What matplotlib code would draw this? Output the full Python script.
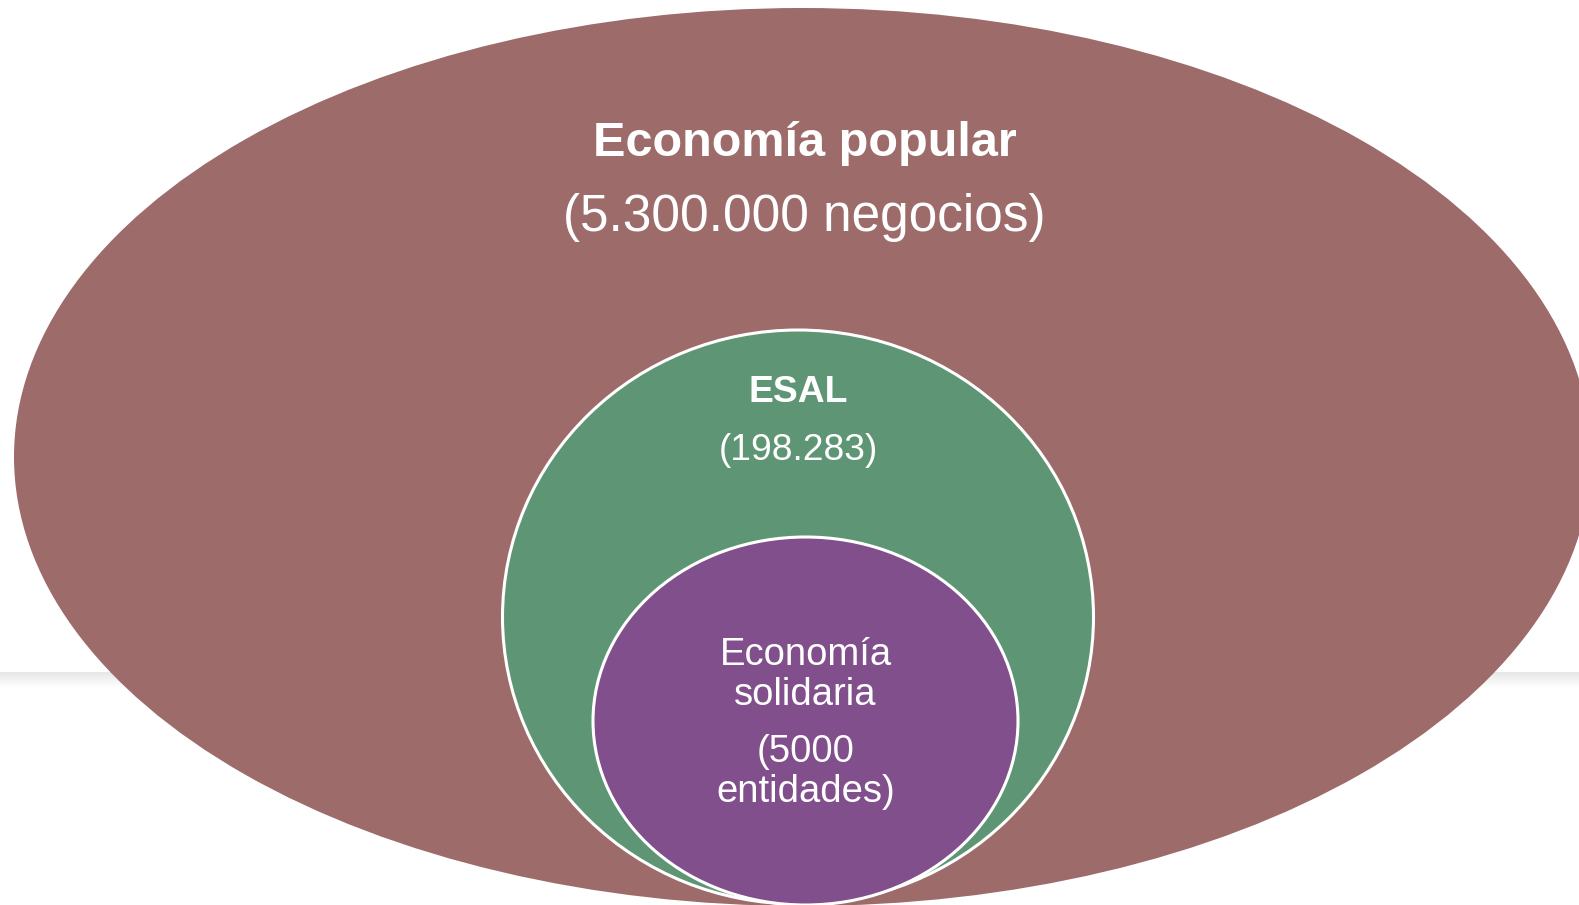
import matplotlib
matplotlib.use("Agg")
import matplotlib.pyplot as plt
from matplotlib.patches import Ellipse

plt.rcParams['font.family'] = ['Liberation Sans', 'DejaVu Sans']

# nested groups, outermost first
NAMES = ['Economía popular', 'ESAL', 'Economía\nsolidaria']
COUNTS = ['(5.300.000 negocios)', '(198.283)', '(5000\nentidades)']
COLORS = ['#9c6b6a', '#5e9574', '#814f8c']

W, H = 1579, 905
fig = plt.figure(figsize=(W / 100, H / 100), dpi=100)
ax = fig.add_axes([0, 0, 1, 1])
ax.set_xlim(0, W)
ax.set_ylim(H, 0)
ax.axis('off')

# faint shadow band behind the diagram
for i in range(16):
    g = 0.905 + 0.095 * i / 15
    ax.axhspan(672 + i, 673 + i, color=(g, g, g), lw=0, zorder=0)

# ellipse layout: (cx, cy, width, height)
shapes = [(802.5, 457, 1577, 898), (798, 617, 591, 574), (805.5, 721, 425, 368)]
for k, (cx, cy, w, h) in enumerate(shapes):
    ax.add_patch(Ellipse((cx, cy), w, h, facecolor=COLORS[k],
                         edgecolor='white' if k else 'none',
                         lw=2.2, zorder=1 + k))

# labels
ax.text(804.5, 143, NAMES[0], ha='center', va='center', color='white',
        fontsize=35, fontweight='bold', zorder=5)
ax.text(804.5, 217, COUNTS[0], ha='center', va='center', color='white',
        fontsize=37, zorder=5)
ax.text(798, 392, NAMES[1], ha='center', va='center', color='white',
        fontsize=26.8, fontweight='bold', zorder=5)
ax.text(798, 450, COUNTS[1], ha='center', va='center', color='white',
        fontsize=26.8, zorder=5)
ax.text(805.5, 675, NAMES[2], ha='center', va='center', color='white',
        fontsize=27.5, linespacing=1.14, zorder=5)
ax.text(805.5, 772, COUNTS[2], ha='center', va='center', color='white',
        fontsize=27.5, linespacing=1.14, zorder=5)

fig.savefig('out.png', dpi=100)
